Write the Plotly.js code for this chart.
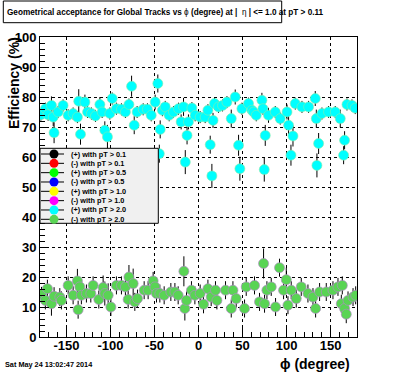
<!DOCTYPE html>
<html>
<head>
<meta charset="utf-8">
<script src="https://cdn.plot.ly/plotly-3.0.1.min.js"></script>
<style>html,body{margin:0;padding:0;background:#fff;}#chart{width:396px;height:372px;}</style>
</head>
<body>
<div id="chart"></div>
<script>
// (+) with pT > 2.0  (upper band)
var plusPhi = [-179,-173.8,-170.8,-167,-165,-164,-159.4,-153.8,-148,-142.4,-137.5,-136,-134,-129,-126,-121.6,-117,-112,-109.4,-106.4,-103.4,-100.7,-98,-93.2,-87.5,-83,-79,-76,-73,-69.7,-62.8,-58,-53.7,-49.2,-46.2,-43.5,-41,-44.5,-37.8,-33.3,-28.4,-22.7,-19.7,-17,-13,-15,-11.4,-7.5,-3.8,1.9,7.6,10.7,13.3,15.2,16.5,18.2,22.7,27.3,32.3,37.2,41.7,45.5,47,49.3,56.8,60.7,62.5,65.6,72,73.2,74.7,75.8,79.5,87.2,92.8,100.5,102.3,105,107.3,109.9,117.5,125,132.6,133.8,134.5,136.4,140.2,147.7,155.3,161,164.8,165.9,168.6,174.3,178];
var plusEff = [74.1,76.1,74.1,77.2,73.3,68.1,75,77.2,73.9,74.5,73.3,78.6,67.6,78.3,75,74.5,73.7,77.5,75,68.9,66.7,74.5,79.5,76.1,75.9,75,77.5,83.6,70.6,75,75.9,75.9,73.9,78.3,84.5,69.2,75.6,61.1,76.7,73.9,75,76.1,71.7,76.7,67.2,58.3,71.7,76.3,73.9,73.3,73.3,75.6,64.1,53.7,72.2,77.8,76.7,77.2,78.3,72.8,80,63.9,56.1,76.1,77.8,75.6,75,73.9,78.9,76.1,55.8,67.2,73.9,75,72.8,75,70.6,60.6,67,77.8,76.7,76.7,79.5,72.8,57.2,64.5,74.5,75,75,72.8,60.6,65.6,77.5,77.2,76.3];
var plusErr = [2,2,2,3,3,3.5,2,2,2,2,2,4,3.5,2.5,2,2,2,2.5,2,3,4,2,2,2,2,2,2,3.5,3,2,2,2,2,2.5,3,3,2,3,2,2,2,2,2.5,3,3,4,2.5,2,2,2,2,2,3,4,2.5,2,2,2,2,3,2.5,3.5,4,2,2,2,2,2,2.5,2,4,3.5,2.5,2,2,2.5,3,3.5,3.5,2,2,2,2.5,3,4,3.5,2,2,2,3,3,3,2,2,2];
// (-) with pT > 2.0  (lower band)
var minusPhi = [-178.3,-173.9,-171.6,-167,-164,-157.5,-155.7,-148,-142.4,-137.5,-136.7,-134.8,-133,-127.3,-122.3,-119.7,-113.2,-108.3,-106.4,-102.6,-99.5,-93.2,-87.5,-83,-79.9,-79,-74.2,-72.3,-69.3,-61.7,-57.2,-51.5,-49.5,-47.7,-43.9,-39,-31.4,-26.8,-23.1,-16.6,-15.5,-13.6,-8,-4.1,1.9,5.7,10.7,14.4,19.3,20.9,30.7,37.2,39.1,42.8,52.3,54.2,63.6,69.3,73.9,75,77.7,82.6,87.5,92,96.6,99.7,101.6,105.3,111,116.7,124.3,130,133,137.5,145.1,152.7,158.4,162.2,163.3,165.9,167.8,169.8,175.5,178.5];
var minusEff = [14.2,12.2,16.1,11.1,13.6,13.3,12.2,17.2,13.9,18.7,9.1,16.7,13.9,14.5,14.5,17.2,12.5,16.5,14.5,13.9,10,17.2,17.2,16.7,12.5,20,17.8,11.7,12.8,15.6,15.6,18.7,16.7,14.5,14.5,13.9,15,15,13.9,21.9,9.5,12.2,15.6,13.9,14.5,10.9,16.1,13.3,15.6,12.2,15.6,9.5,15.6,12.8,9.5,16.7,17.2,11.7,24.5,11.1,15.6,16.7,10,23.1,15.6,19.1,10.6,15.6,12.8,16.7,14.5,13.3,9.5,15,15,15.6,16.7,11.1,17.2,9.5,7.6,12.2,13.3,13.9];
var minusErr = [2.5,3,3,4,3,3,3,3,3,4,3,3,3,3,3,3,3,4,4,4,3,3,3,3,3,4,5,3,3,3,3,3,3,3,3,3,3,3,3,5,4,3,3,3,3,3,3,3,3,3,3,3,3,3,3,3,3,3,5,3,3,3,3,3,3,4,3,3,3,3,3,3,3,3,3,3,3,3,3,3,3,3,3,3];

var legendLabels = ["(+) with pT > 0.1","(-) with pT > 0.1","(+) with pT > 0.5","(-) with pT > 0.5","(+) with pT > 1.0","(-) with pT > 1.0","(+) with pT > 2.0","(-) with pT > 2.0"];
var legendColors = ["#000000","#ff0000","#00ff00","#0000ff","#ffff00","#ff00ff","#00ffff","#59d454"];
var xTickVals = [-150,-100,-50,0,50,100,150];
var xTickLabels = ["-150","-100","-50","0","50","100","150"];

var FONT = "Liberation Sans, Arial, Helvetica, sans-serif";

var traces = [
  {x: plusPhi, y: plusEff, type: 'scatter', mode: 'markers', showlegend: false,
   error_y: {type: 'data', array: plusErr, visible: true, color: '#000', thickness: 1, width: 0},
   marker: {symbol: 'circle', size: 10, color: legendColors[6], line: {width: 0.6, color: 'rgb(140,235,170)'}}},
  {x: minusPhi, y: minusEff, type: 'scatter', mode: 'markers', showlegend: false,
   error_y: {type: 'data', array: minusErr, visible: true, color: '#000', thickness: 1, width: 0},
   marker: {symbol: 'circle', size: 10, color: legendColors[7], line: {width: 0.7, color: 'rgb(175,140,195)'}}}
];

// layout helpers (pixel -> paper)
var L = 40, T = 37, W = 317, H = 300;
function px(x){ return (x - L) / W; }
function py(y){ return (T + H - y) / H; }

var shapes = [
  {type: 'rect', xref: 'paper', yref: 'paper', x0: px(3.3), x1: px(281.7), y0: py(22.7), y1: py(1), line: {color: '#000', width: 1}, fillcolor: '#fff', layer: 'above'},
  {type: 'rect', xref: 'paper', yref: 'paper', x0: px(40), x1: px(158.3), y0: py(223.3), y1: py(148.3), line: {color: '#000', width: 1}, fillcolor: '#f0f0f0', layer: 'above'}
];
var annotations = [
  {xref: 'paper', yref: 'paper', x: px(5), y: py(12), xanchor: 'left', yanchor: 'middle', showarrow: false,
   text: "<b>Geometrical acceptance for Global Tracks vs </b>\u03d5<b> (degree) at |  </b>\u03b7<b> | <= 1.0 at pT > 0.11</b>",
   font: {family: FONT, size: 8.2, color: '#000'}},
  {xref: 'paper', yref: 'paper', x: px(14), y: py(83), xanchor: 'center', yanchor: 'middle', showarrow: false, textangle: -90,
   text: "<b>Efficiency (%)</b>", font: {family: FONT, size: 14, color: '#000'}},
  {xref: 'paper', yref: 'paper', x: px(352), y: py(364), xanchor: 'right', yanchor: 'middle', showarrow: false,
   text: "<b>\u03d5 (degree)</b>", font: {family: FONT, size: 14, color: '#000'}},
  {xref: 'paper', yref: 'paper', x: px(3), y: py(364), xanchor: 'left', yanchor: 'middle', showarrow: false,
   text: "<b>Sat May 24 13:02:47 2014</b>", font: {family: FONT, size: 7.3, color: '#000'}}
];
for (var i = 0; i < legendLabels.length; i++) {
  var ry = 154 + 9.33 * i;
  shapes.push({type: 'line', xref: 'paper', yref: 'paper', x0: px(41), x1: px(64), y0: py(ry), y1: py(ry), line: {color: '#000', width: 1}, layer: 'above'});
  shapes.push({type: 'circle', xref: 'paper', yref: 'paper', xsizemode: 'pixel', ysizemode: 'pixel', xanchor: px(54), yanchor: py(ry),
    x0: -4.5, x1: 4.5, y0: -4.5, y1: 4.5, fillcolor: legendColors[i], line: {width: 0}, layer: 'above'});
  annotations.push({xref: 'paper', yref: 'paper', x: px(69), y: py(ry), xanchor: 'left', yanchor: 'middle', showarrow: false,
    text: "<b>" + legendLabels[i] + "</b>", font: {family: FONT, size: 7.3, color: '#000'}});
}

var axisCommon = {
  showline: true, linecolor: '#000', linewidth: 1, mirror: true,
  ticks: 'inside', tickcolor: '#000', tickwidth: 1, ticklen: 9,
  showgrid: true, gridcolor: '#000', gridwidth: 1, griddash: 'dot',
  zeroline: false,
  tickfont: {family: FONT, size: 13, color: '#000', weight: 'bold'}
};

var layout = {
  width: 396, height: 372,
  margin: {l: 40, r: 39, t: 37, b: 35, pad: 0},
  paper_bgcolor: '#fff', plot_bgcolor: '#fff',
  showlegend: false,
  xaxis: Object.assign({}, axisCommon, {range: [-180, 180], tickmode: 'array', tickvals: xTickVals, ticktext: xTickLabels,
    ticklabelstandoff: -4,
    minor: {dtick: 10, tick0: 0, ticks: 'inside', ticklen: 5, tickcolor: '#000', showgrid: false}}),
  yaxis: Object.assign({}, axisCommon, {range: [0, 100], dtick: 10, tick0: 0,
    minor: {dtick: 2, tick0: 0, ticks: 'inside', ticklen: 5, tickcolor: '#000', showgrid: false}}),
  shapes: shapes,
  annotations: annotations
};

Plotly.newPlot('chart', traces, layout, {staticPlot: true, displayModeBar: false});
</script>
</body>
</html>
